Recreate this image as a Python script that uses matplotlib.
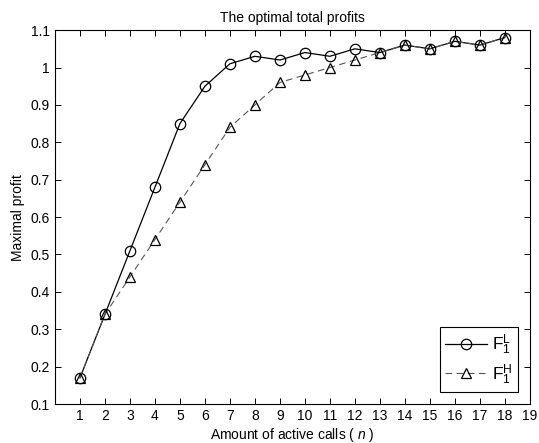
import matplotlib
matplotlib.use("Agg")
import matplotlib.pyplot as plt

plt.rcParams['font.family'] = ['Liberation Sans', 'DejaVu Sans']
plt.rcParams['mathtext.fontset'] = 'custom'
plt.rcParams['mathtext.rm'] = 'Liberation Sans'
plt.rcParams['mathtext.it'] = 'Liberation Sans:italic'

n = list(range(1, 19))
profit_L = [0.17, 0.34, 0.51, 0.68, 0.85, 0.95, 1.01, 1.03, 1.02, 1.04, 1.03, 1.05, 1.04, 1.06, 1.05, 1.07, 1.06, 1.08]
profit_H = [0.17, 0.34, 0.44, 0.54, 0.64, 0.74, 0.84, 0.90, 0.96, 0.98, 1.00, 1.02, 1.04, 1.06, 1.05, 1.07, 1.06, 1.08]
xticks = list(range(1, 20))
yticks = [0.1, 0.2, 0.3, 0.4, 0.5, 0.6, 0.7, 0.8, 0.9, 1.0, 1.1]
yticklabels = ['0.1', '0.2', '0.3', '0.4', '0.5', '0.6', '0.7', '0.8', '0.9', '1', '1.1']

fig = plt.figure(figsize=(5.39, 4.43), dpi=100)
ax = fig.add_axes([0.102, 0.088, 0.881, 0.844])

ax.plot(n, profit_L, color='black', lw=0.9, marker='o', ms=7.5, mfc='none', mec='black', mew=0.9,
        label=r'$\mathrm{F}_1^{\mathrm{L}}$')
ax.plot(n, profit_H, color='#555555', lw=0.8, ls=(0, (6, 4)), marker='^', ms=7.5, mfc='none', mec='black', mew=0.9,
        label=r'$\mathrm{F}_1^{\mathrm{H}}$')

ax.set_xlim(0, 19)
ax.set_ylim(0.1, 1.1)
ax.set_xticks(xticks)
ax.set_yticks(yticks)
ax.set_yticklabels(yticklabels)
ax.tick_params(direction='in', top=True, right=True, labelsize=10, length=4, width=0.7)
for s in ax.spines.values():
    s.set_linewidth(0.8)

ax.set_title('The optimal total profits', fontsize=10)
ax.set_xlabel('Amount of active calls ( $\\it{n}$ )', fontsize=10, labelpad=2)
ax.set_ylabel('Maximal profit', fontsize=10)

leg = ax.legend(loc='lower right', fontsize=12.5, fancybox=False, edgecolor='black', framealpha=1,
                handlelength=2.4, handletextpad=0.3, labelspacing=0.3, borderpad=0.3,
                borderaxespad=0.7)
leg.get_frame().set_linewidth(0.8)

fig.savefig('out.png', dpi=100)
